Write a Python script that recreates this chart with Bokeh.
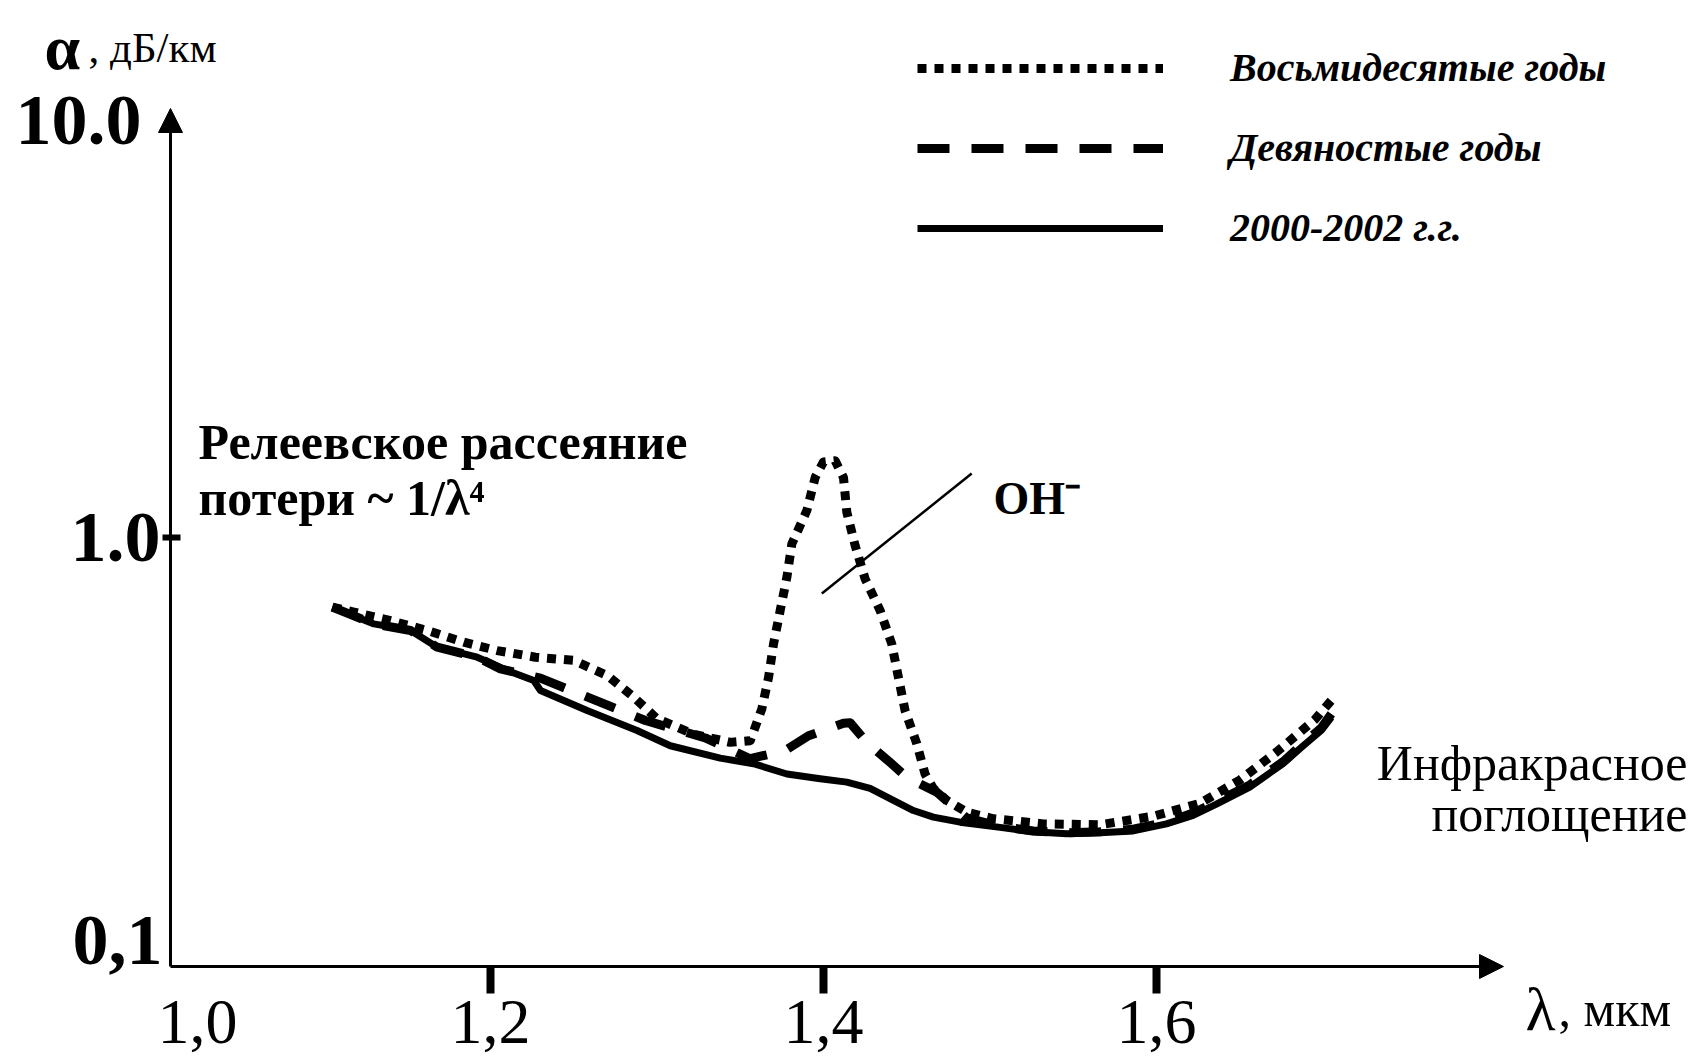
from bokeh.plotting import figure
from bokeh.models import Range1d, FixedTicker, Label, Arrow, NormalHead, Legend, LegendItem
from bokeh.embed import file_html
from bokeh.resources import INLINE

# ---- data (wavelength, um ; attenuation, dB/km) ----
wl_80s = [1.105, 1.118, 1.140, 1.162, 1.184, 1.204, 1.227, 1.250, 1.270, 1.285, 1.300,
          1.322, 1.344, 1.356, 1.363, 1.367, 1.370, 1.374, 1.378, 1.381, 1.390, 1.395,
          1.400, 1.407, 1.412, 1.414, 1.419, 1.425, 1.434, 1.441, 1.445, 1.449, 1.456,
          1.461, 1.466, 1.474, 1.486, 1.502, 1.532, 1.566, 1.598, 1.626, 1.650, 1.672,
          1.695, 1.705]
att_80s = [0.688, 0.670, 0.640, 0.607, 0.570, 0.545, 0.526, 0.517, 0.477, 0.428, 0.378,
           0.348, 0.333, 0.336, 0.399, 0.472, 0.565, 0.676, 0.808, 0.967, 1.156, 1.38,
           1.50, 1.51, 1.38, 1.146, 0.958, 0.801, 0.676, 0.565, 0.472, 0.395, 0.331,
           0.281, 0.260, 0.244, 0.229, 0.221, 0.215, 0.214, 0.224, 0.240, 0.272, 0.316,
           0.376, 0.417]

wl_90s = [1.105, 1.130, 1.152, 1.168, 1.192, 1.206, 1.230, 1.256, 1.293, 1.329, 1.356,
          1.377, 1.391, 1.412, 1.416, 1.426, 1.440, 1.450, 1.468, 1.486, 1.506, 1.526,
          1.546, 1.566, 1.586, 1.606, 1.622, 1.636, 1.656, 1.676, 1.687, 1.699, 1.705]
att_90s = [0.688, 0.629, 0.607, 0.555, 0.526, 0.494, 0.470, 0.428, 0.3745, 0.341, 0.305,
           0.319, 0.345, 0.369, 0.370, 0.333, 0.299, 0.276, 0.255, 0.222, 0.212, 0.207,
           0.205, 0.206, 0.209, 0.217, 0.228, 0.242, 0.265, 0.300, 0.328, 0.360, 0.388]

wl_2000 = [1.105, 1.130, 1.152, 1.168, 1.192, 1.210, 1.226, 1.230, 1.258, 1.288, 1.308,
           1.338, 1.358, 1.378, 1.398, 1.414, 1.428, 1.442, 1.454, 1.466, 1.482, 1.506,
           1.526, 1.546, 1.566, 1.586, 1.606, 1.622, 1.636, 1.656, 1.676, 1.687, 1.699,
           1.705]
att_2000 = [0.688, 0.629, 0.607, 0.555, 0.526, 0.490, 0.464, 0.440, 0.395, 0.355, 0.327,
            0.306, 0.297, 0.281, 0.274, 0.269, 0.260, 0.244, 0.231, 0.223, 0.217, 0.211,
            0.206, 0.204, 0.205, 0.207, 0.215, 0.225, 0.239, 0.262, 0.297, 0.324, 0.355,
            0.381]

series_labels = ["Восьмидесятые годы", "Девяностые годы", "2000-2002 г.г."]

x_ticks = [1.2, 1.4, 1.6]
x_tick_labels = ["1,2", "1,4", "1,6"]
x_first_label = "1,0"
y_ticks = [1]
y_tick_labels = ["1.0"]
y_top_label = "10.0"
y_bottom_label = "0,1"

oh_leader_wl = [1.489, 1.399]
oh_leader_att = [1.41, 0.74]

SERIF = "Liberation Serif"


# helpers: reference-image pixel -> data coordinates (layout / annotation placement only)
def wl_at(px):
    return 1.2 + (px - 490) / 333 * 0.2


def att_at(py):
    return 10 ** ((537 - py) / 429)


W, H = 1696, 1056
p = figure(width=W, height=H, y_axis_type="log",
           x_range=Range1d(wl_at(0), wl_at(W)),
           y_range=Range1d(att_at(H), att_at(0)),
           output_backend="svg", toolbar_location=None, title=None,
           min_border_left=0, min_border_right=0, min_border_top=0, min_border_bottom=0)
p.outline_line_color = None
p.xgrid.visible = False
p.ygrid.visible = False
p.background_fill_color = "white"
p.border_fill_color = "white"

x0 = wl_at(170)      # position of the vertical axis
y0 = 0.1             # position of the horizontal axis

# x axis
p.xaxis.fixed_location = y0
p.xaxis.ticker = FixedTicker(ticks=x_ticks, minor_ticks=[])
p.xaxis.major_label_overrides = dict(zip(x_ticks, x_tick_labels))
p.xaxis.axis_line_color = None
p.xaxis.major_tick_out = 27
p.xaxis.major_tick_in = 0
p.xaxis.major_tick_line_width = 8
p.xaxis.major_tick_line_color = "black"
p.xaxis.minor_tick_line_color = None
p.xaxis.major_label_text_font = SERIF
p.xaxis.major_label_text_font_size = "64px"
p.xaxis.major_label_text_color = "black"
p.xaxis.major_label_standoff = 7

# y axis
p.yaxis.fixed_location = x0
p.yaxis.ticker = FixedTicker(ticks=y_ticks, minor_ticks=[])
p.yaxis.major_label_overrides = dict(zip(y_ticks, y_tick_labels))
p.yaxis.axis_line_color = None
p.yaxis.major_tick_out = 8
p.yaxis.major_tick_in = 10
p.yaxis.major_tick_line_width = 6
p.yaxis.major_tick_line_color = "black"
p.yaxis.minor_tick_line_color = None
p.yaxis.major_label_text_font = SERIF
p.yaxis.major_label_text_font_style = "bold"
p.yaxis.major_label_text_font_size = "72px"
p.yaxis.major_label_text_color = "black"
p.yaxis.major_label_standoff = 2

# axis lines with arrow heads
p.add_layout(Arrow(x_start=x0, y_start=y0, x_end=wl_at(1503), y_end=y0,
                   line_width=3, line_color="black",
                   end=NormalHead(size=24, fill_color="black", line_color="black")))
p.add_layout(Arrow(x_start=x0, y_start=y0, x_end=x0, y_end=10.0,
                   line_width=3, line_color="black",
                   end=NormalHead(size=24, fill_color="black", line_color="black")))

# curves
r80 = p.line(wl_80s, att_80s, line_width=9, line_color="black", line_dash="9 8",
             line_join="round")
r90 = p.line(wl_90s, att_90s, line_width=9, line_color="black", line_dash="32 22",
             line_join="round")
r00 = p.line(wl_2000, att_2000, line_width=7, line_color="black", line_join="round")

# OH- leader line
p.line(oh_leader_wl, oh_leader_att, line_width=2.5, line_color="black")

legend = Legend(items=[LegendItem(label=series_labels[0], renderers=[r80]),
                       LegendItem(label=series_labels[1], renderers=[r90]),
                       LegendItem(label=series_labels[2], renderers=[r00])],
                location=(917, 805), orientation="vertical",
                glyph_width=246, glyph_height=46, label_height=46, spacing=33,
                label_standoff=67, padding=0, margin=0,
                border_line_color=None, background_fill_alpha=0,
                label_text_font=SERIF, label_text_font_style="bold italic",
                label_text_font_size="40px", label_text_color="black")
p.add_layout(legend)


def add_label(text, xo, yo, size, style="normal", align="left", baseline="alphabetic",
              x=None, y=None, x_offset=0, y_offset=0):
    p.add_layout(Label(x=wl_at(xo) if x is None else x,
                       y=att_at(yo) if y is None else y,
                       x_offset=x_offset, y_offset=y_offset,
                       text=text, text_font=SERIF, text_font_size=size,
                       text_font_style=style, text_align=align,
                       text_baseline=baseline, text_color="black"))


# end tick labels of the axes
add_label(y_top_label, 0, 0, "72px", "bold", "right", "middle", x=x0, y=10.0,
          x_offset=-29, y_offset=-12)
add_label(y_bottom_label, 0, 0, "72px", "bold", "right", "middle", x=x0, y=y0,
          x_offset=-8, y_offset=26)
add_label(x_first_label, 197, 0, "64px", "normal", "center", "top", y=y0, y_offset=-34)

# axis titles
add_label("α", 44, 47, "64px", "bold")
add_label(", дБ/км", 88, 47, "43px")
add_label("λ", 1525, 1008, "62px")
add_label(", мкм", 1558, 1008, "50px")

# annotations
add_label("Релеевское рассеяние", 198, 441, "50px", "bold")
add_label("потери  ~ 1/λ⁴", 198, 497, "50px", "bold")
add_label("OH⁻", 993, 498, "46px", "bold")
add_label("Инфракрасное", 1687, 762, "50px", "normal", "right")
add_label("поглощение", 1687, 813, "50px", "normal", "right")

open("out.html", "w").write(file_html(p, INLINE))
